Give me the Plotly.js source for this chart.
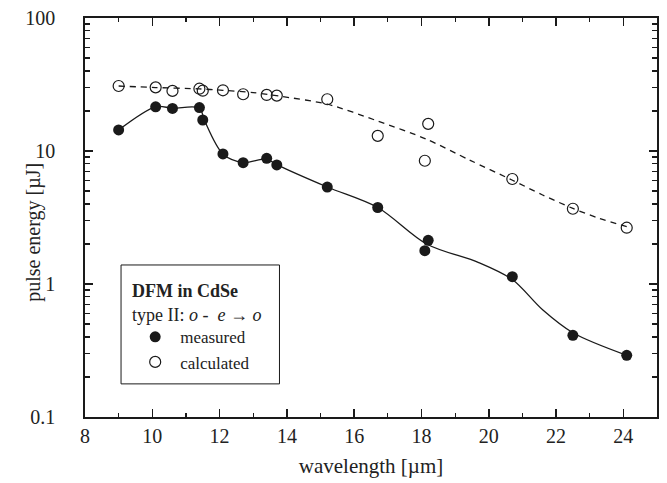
<!DOCTYPE html>
<html>
<head>
<meta charset="utf-8">
<script src="https://cdn.plot.ly/plotly-3.0.1.min.js"></script>
<style>html,body{margin:0;padding:0;background:#fff;}#chart{width:667px;height:483px;}</style>
</head>
<body>
<div id="chart"></div>
<script>
// wavelength (µm) of each data point
const wavelength = [9.0, 10.1, 10.6, 11.4, 11.5, 12.1, 12.7, 13.4, 13.7, 15.2, 16.7, 18.2, 18.1, 20.7, 22.5, 24.1];
// measured pulse energy (µJ)
const measured = [14.4, 21.5, 20.9, 21.2, 17.1, 9.5, 8.17, 8.81, 7.85, 5.36, 3.76, 2.13, 1.78, 1.135, 0.411, 0.291];
// calculated pulse energy (µJ)
const calculated = [30.8, 30.1, 28.3, 29.4, 28.4, 28.6, 26.7, 26.4, 26.1, 24.5, 13.0, 16.0, 8.45, 6.16, 3.68, 2.65];

const fitMeasX = [9.0, 10.1, 10.6, 11.4, 11.55, 12.1, 12.7, 13.4, 13.7, 15.2, 16.7, 18.15, 19.7, 20.7, 21.6, 22.5, 24.1];
const fitMeasY = [14.4, 21.5, 21.0, 21.0, 17.0, 9.5, 8.2, 8.7, 7.9, 5.36, 3.76, 2.0, 1.45, 1.08, 0.64, 0.43, 0.291];
// fitted guide curve through calculated data
const fitCalcX = [9.0, 10.1, 11.4, 12.1, 13.0, 13.8, 15.2, 16.7, 18.14, 19.43, 20.69, 21.6, 22.5, 23.28, 24.1];
const fitCalcY = [30.8, 30.0, 29.3, 28.6, 27.5, 25.8, 22.5, 16.8, 12.3, 8.55, 6.05, 4.67, 3.7, 3.12, 2.7];

// texts
const xTitle = 'wavelength [µm]';
const yTitle = 'pulse energy [µJ]';
const legendHeading = ['<b>DFM in CdSe</b>', 'type II: <i>o</i> -  <i>e</i> → <i>o</i>'];

const FONT = 'Liberation Serif, DejaVu Serif, serif';
const INK = '#1a1a1a';

const traces = [
  {x: fitCalcX, y: fitCalcY, mode: 'lines', line: {shape: 'spline', smoothing: 0.8, color: INK, width: 1.3, dash: '6px,5px'}, showlegend: false, hoverinfo: 'skip'},
  {x: fitMeasX, y: fitMeasY, mode: 'lines', line: {shape: 'spline', smoothing: 0.9, color: INK, width: 1.3}, showlegend: false, hoverinfo: 'skip'},
  {x: wavelength, y: measured, mode: 'markers', name: 'measured',
   marker: {symbol: 'circle', size: 11, color: INK, line: {color: INK, width: 0}}},
  {x: wavelength, y: calculated, mode: 'markers', name: 'calculated',
   marker: {symbol: 'circle-open', size: 11, color: INK, line: {color: INK, width: 1.2}}}
];

const axisCommon = {
  showline: true, linecolor: INK, linewidth: 1.8, mirror: 'ticks',
  ticks: 'inside', ticklen: 8, tickwidth: 1.5, tickcolor: INK,
  showgrid: false, zeroline: false,
  tickfont: {family: FONT, size: 20, color: '#222'}
};

const layout = {
  width: 667, height: 483,
  margin: {l: 85, r: 10, t: 18, b: 66},
  paper_bgcolor: '#fff', plot_bgcolor: '#fff',
  font: {family: FONT, color: '#222'},
  xaxis: Object.assign({}, axisCommon, {
    range: [8, 25], dtick: 2, tick0: 8,
    minor: {dtick: 1, ticks: 'inside', ticklen: 4, tickwidth: 1.2, tickcolor: INK, showgrid: false},
    title: {text: xTitle, font: {family: FONT, size: 21, color: '#222'}, standoff: 12}
  }),
  yaxis: Object.assign({}, axisCommon, {
    type: 'log', range: [-1, 2], dtick: 1, ticklabelstandoff: 24,
    minor: {dtick: 'D1', ticks: 'inside', ticklen: 5, tickwidth: 1.2, tickcolor: INK, showgrid: false}
  }),
  shapes: [
    {type: 'rect', xref: 'paper', yref: 'paper', x0: 0.063, x1: 0.34, y0: 0.083, y1: 0.381,
     line: {color: INK, width: 1}, fillcolor: 'rgba(255,255,255,1)', layer: 'above'}
  ],
  annotations: [
    {xref: 'paper', yref: 'paper', x: -0.089, y: 0.462, xanchor: 'center', yanchor: 'middle', showarrow: false,
     textangle: -90, text: yTitle, font: {family: FONT, size: 20, color: '#222'}},
    {xref: 'paper', yref: 'paper', x: 0.079, y: 0.316, xanchor: 'left', yanchor: 'middle', showarrow: false,
     text: legendHeading[0], font: {family: FONT, size: 18, color: '#222'}},
    {xref: 'paper', yref: 'paper', x: 0.079, y: 0.255, xanchor: 'left', yanchor: 'middle', showarrow: false,
     text: legendHeading[1], font: {family: FONT, size: 18, color: '#222'}}
  ],
  legend: {
    x: 0.079, y: 0.245, xanchor: 'left', yanchor: 'top',
    borderwidth: 0, bgcolor: 'rgba(0,0,0,0)',
    font: {family: FONT, size: 17, color: '#222'},
    itemwidth: 40, tracegroupgap: 0
  },
  showlegend: true
};

Plotly.newPlot('chart', traces, layout, {displayModeBar: false, staticPlot: true});
</script>
</body>
</html>
